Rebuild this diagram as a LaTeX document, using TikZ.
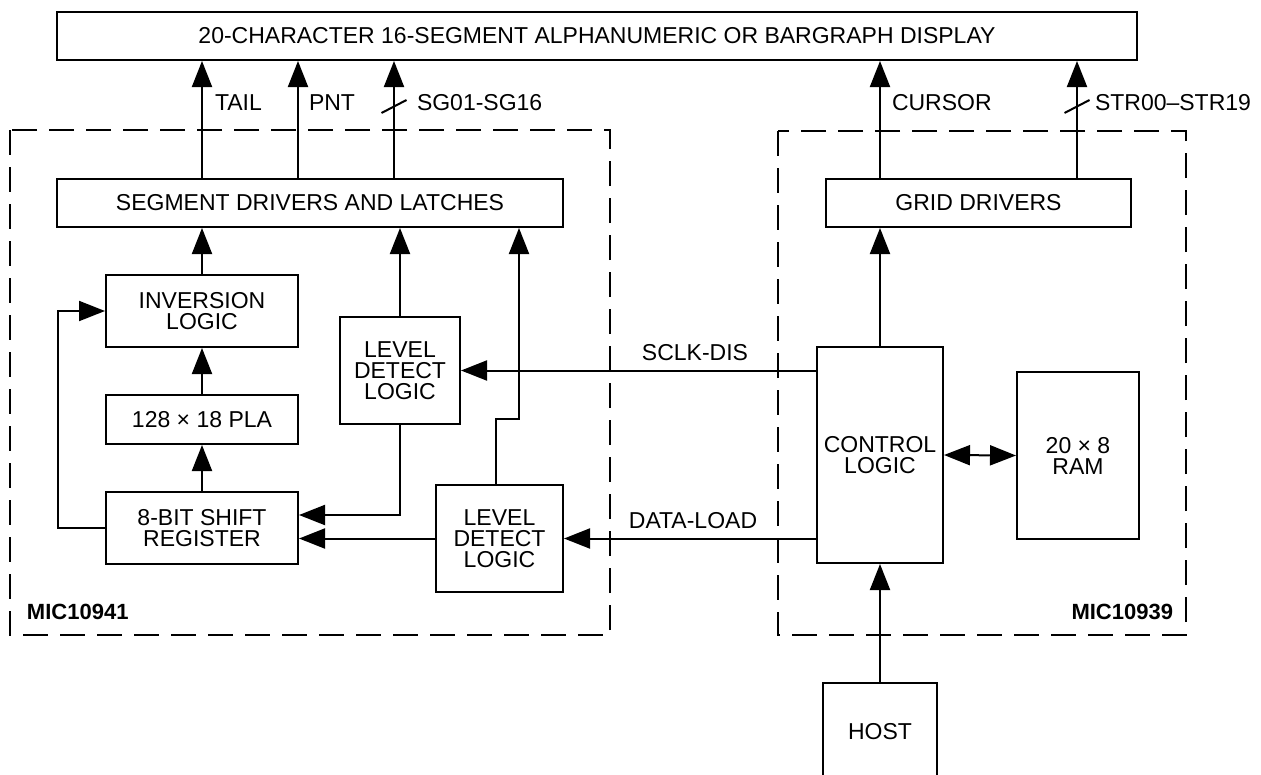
\documentclass[tikz,border=0pt]{standalone}
\usepackage{fontspec}
\setmainfont{Liberation Sans}
\usetikzlibrary{arrows.meta}

\begin{document}
\begin{tikzpicture}[x=1pt,y=-1pt,line width=2pt,>={Triangle[length=26pt,width=20pt]},
    blk/.style={draw,inner sep=0pt,align=center,font=\fontsize{23}{21}\selectfont},
    lbl/.style={inner sep=0pt,font=\fontsize{23}{21}\selectfont},
    chiplbl/.style={inner sep=0pt,font=\fontsize{22}{21}\selectfont\bfseries},
    chip/.style={dash pattern=on 25pt off 12pt}]
            % page frame
            \useasboundingbox (0,0) rectangle (1261,774);

            % the display on top
            \node[blk,minimum width=1080pt,minimum height=48pt] (disp) at (597,36)
                {20-CHARACTER 16-SEGMENT ALPHANUMERIC OR BARGRAPH DISPLAY};

            % MIC10941 blocks
            \node[blk,minimum width=506pt,minimum height=48pt] (seg) at (310,203) {SEGMENT DRIVERS AND LATCHES};
            \node[blk,minimum width=192pt,minimum height=72pt] (inv) at (202,311) {INVERSION\\LOGIC};
            \node[blk,minimum width=192pt,minimum height=49pt] (pla) at (202,419.5) {128 × 18 PLA};
            \node[blk,minimum width=192pt,minimum height=72pt] (shift) at (202,528) {8-BIT SHIFT\\REGISTER};
            \node[blk,minimum width=120pt,minimum height=107pt] (lvla) at (400,370.5) {LEVEL\\DETECT\\LOGIC};
            \node[blk,minimum width=127pt,minimum height=107pt] (lvlb) at (499.5,538.5) {LEVEL\\DETECT\\LOGIC};

            % MIC10939 blocks
            \node[blk,minimum width=305pt,minimum height=48pt] (grid) at (978.5,203) {GRID DRIVERS};
            \node[blk,minimum width=126pt,minimum height=216pt] (ctrl) at (880,455) {CONTROL\\LOGIC};
            \node[blk,minimum width=122pt,minimum height=167pt] (ram) at (1078,455.5) {20 × 8\\RAM};
            \node[blk,minimum width=114pt,minimum height=98pt] (host) at (880,732) {HOST};

            % dashed chip outlines
            \draw[chip] (10,130) rectangle (610,635);
            \draw[chip] (778,131) rectangle (1186,635);
            \node[chiplbl,anchor=west] (mica) at (26,612) {MIC10941};
            \node[chiplbl,anchor=east] (micb) at (1174,612) {MIC10939};

            % outputs to the display
            \coordinate (tail) at (202,0);
            \coordinate (pnt) at (298,0);
            \coordinate (sg) at (394,0);
            \coordinate (cur) at (880,0);
            \coordinate (str) at (1077,0);
            \draw[->] (seg.north -| tail) -- (disp.south -| tail);
            \draw[->] (seg.north -| pnt) -- (disp.south -| pnt);
            \draw[->] (seg.north -| sg) -- (disp.south -| sg);
            \draw[->] (grid.north -| cur) -- (disp.south -| cur);
            \draw[->] (grid.north -| str) -- (disp.south -| str);
            % bus marks
            \draw (394,106.5) ++(-12.5,6.5) -- ++(25,-13);
            \draw (1077,106.5) ++(-12.5,6.5) -- ++(25,-13);
            % text at the lines
            \node[lbl,anchor=west] (ltail) at (214,103) {TAIL};
            \node[lbl,anchor=west] (lpnt) at (308,103) {PNT};
            \node[lbl,anchor=west] (lsg) at (416,103) {SG01-SG16};
            \node[lbl,anchor=west] (lcur) at (891,103) {CURSOR};
            \node[lbl,anchor=west] (lstr) at (1094,103) {STR00–STR19};

            % inside MIC10941
            \draw[->] (inv.north) -- (seg.south -| inv.north);
            \draw[->] (pla.north) -- (inv.south);
            \draw[->] (shift.north) -- (pla.south);
            \draw[->] (shift.west) -- (58,528) |- (inv.west);
            \draw[->] (lvla.north) -- (seg.south -| lvla.north);
            \draw[->] (lvla.south) |- (shift.east |- 0,515);
            \draw[->] (lvlb.west) -- (lvlb.west -| shift.east);
            \draw[->] (lvlb.north -| 496,0) |- (519,419) -- (seg.south -| 519,0);

            % links between the chips
            \draw[->] (ctrl.west |- lvla.east) -- (lvla.east);
            \draw[->] (ctrl.west |- lvlb.east) -- (lvlb.east);
            \node[lbl] (lsclk) at (695,353) {SCLK-DIS};
            \node[lbl] (ldata) at (693,521) {DATA-LOAD};

            % inside MIC10939
            \draw[->] (ctrl.north) -- (grid.south -| ctrl.north);
            \draw[<->] (ctrl.east) -- (ram.west);
            \draw[->] (host.north) -- (ctrl.south);
\end{tikzpicture}
\end{document}
